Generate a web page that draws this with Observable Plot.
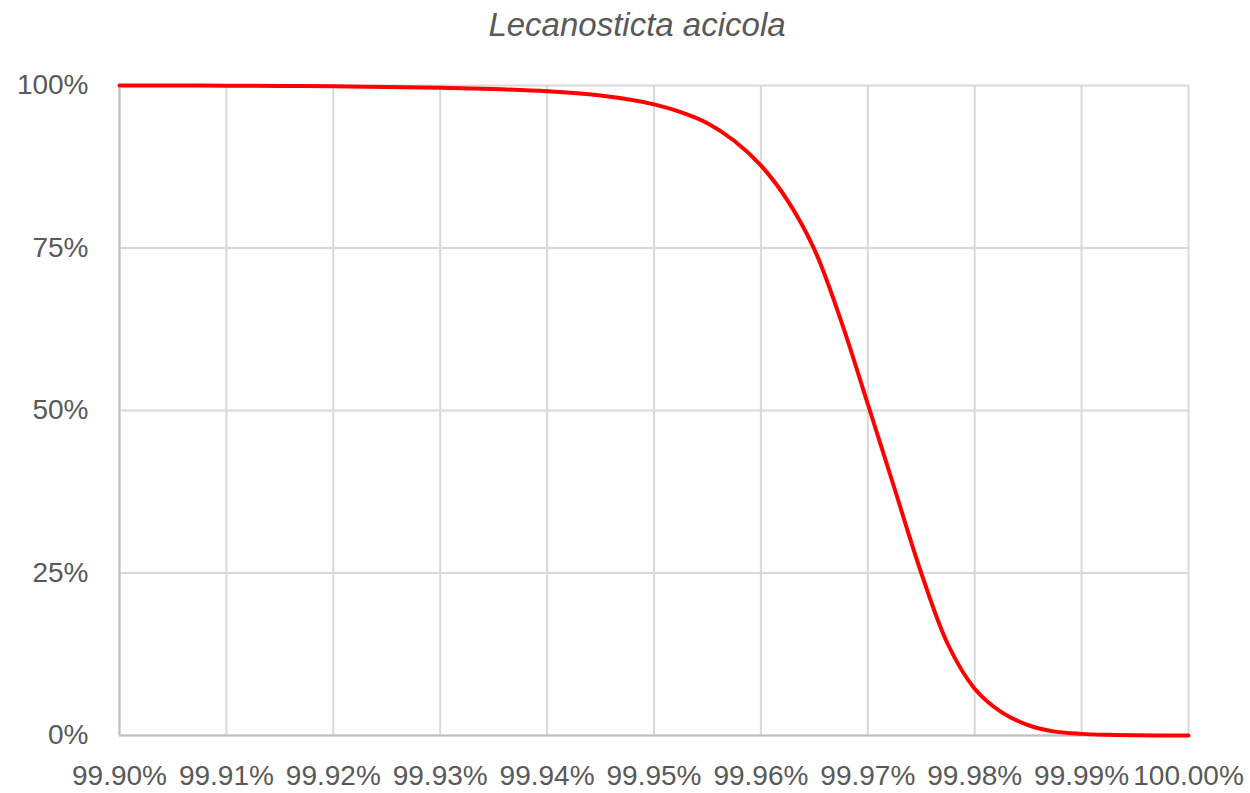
<!DOCTYPE html>
<html>
<head>
<meta charset="utf-8">
<script src="https://cdn.jsdelivr.net/npm/d3@7"></script>
<script src="https://cdn.jsdelivr.net/npm/@observablehq/plot@0.6"></script>
<style>
  html, body { margin: 0; padding: 0; background: #fff; }
  #title { width: 1250px; height: 50px; box-sizing: border-box; padding-left: 24px; text-align: center;
    font-family: "Liberation Sans", Arial, sans-serif; font-style: italic; font-size: 33px; color: #595959; line-height: 50px; }
</style>
</head>
<body>
<div id="title"></div>
<div id="chart"></div>
<script>
const titleText = "Lecanosticta acicola";
// Percent identity (x) and percentage (y)
const xValues = [99.900, 99.905, 99.910, 99.915, 99.920, 99.925, 99.930, 99.935, 99.940, 99.945,
                 99.950, 99.9525, 99.955, 99.9575, 99.960, 99.9625, 99.965, 99.9675, 99.970, 99.9725,
                 99.975, 99.9775, 99.980, 99.9825, 99.985, 99.9875, 99.990, 99.9925, 99.995, 100.000];
const yValues = [100, 99.99, 99.97, 99.93, 99.87, 99.78, 99.65, 99.45, 99.1, 98.45,
                 97.1, 95.9, 94.2, 91.5, 87.7, 82.3, 74.8, 63.8, 51.0, 38.0,
                 25.0, 14.0, 7.2, 3.6, 1.6, 0.6, 0.25, 0.1, 0.03, 0];
const xTicks = [99.90, 99.91, 99.92, 99.93, 99.94, 99.95, 99.96, 99.97, 99.98, 99.99, 100.00];
const xTickLabels = ["99.90%", "99.91%", "99.92%", "99.93%", "99.94%", "99.95%", "99.96%", "99.97%", "99.98%", "99.99%", "100.00%"];
const yTicks = [0, 25, 50, 75, 100];
const yTickLabels = ["0%", "25%", "50%", "75%", "100%"];

document.getElementById("title").textContent = titleText;
const data = xValues.map((x, i) => ({x, y: yValues[i]}));
const xLabel = new Map(xTicks.map((t, i) => [t.toFixed(2), xTickLabels[i]]));
const yLabel = new Map(yTicks.map((t, i) => [t, yTickLabels[i]]));

const chart = Plot.plot({
  width: 1250,
  height: 743,
  marginLeft: 119,
  marginRight: 62,
  marginTop: 35,
  marginBottom: 58,
  style: {fontFamily: "Liberation Sans, Arial, sans-serif", fontSize: "28px", color: "#595959", background: "#fff"},
  x: {domain: [99.90, 100.00]},
  y: {domain: [0, 100]},
  marks: [
    Plot.gridX(xTicks, {stroke: "#d9d9d9", strokeOpacity: 1, strokeWidth: 2}),
    Plot.gridY(yTicks, {stroke: "#d9d9d9", strokeOpacity: 1, strokeWidth: 2}),
    Plot.ruleY([0], {stroke: "#bfbfbf", strokeWidth: 2}),
    Plot.ruleX([99.90], {stroke: "#bfbfbf", strokeWidth: 2}),
    Plot.axisX(xTicks, {tickSize: 0, tickPadding: 30, tickFormat: d => xLabel.get(d.toFixed(2)), label: null, fill: "#595959"}),
    Plot.axisY(yTicks, {tickSize: 0, tickPadding: 31, tickFormat: d => yLabel.get(d), label: null, fill: "#595959"}),
    Plot.line(data, {x: "x", y: "y", stroke: "#ff0000", strokeWidth: 4, curve: "catmull-rom"})
  ]
});
document.getElementById("chart").appendChild(chart);
</script>
</body>
</html>
